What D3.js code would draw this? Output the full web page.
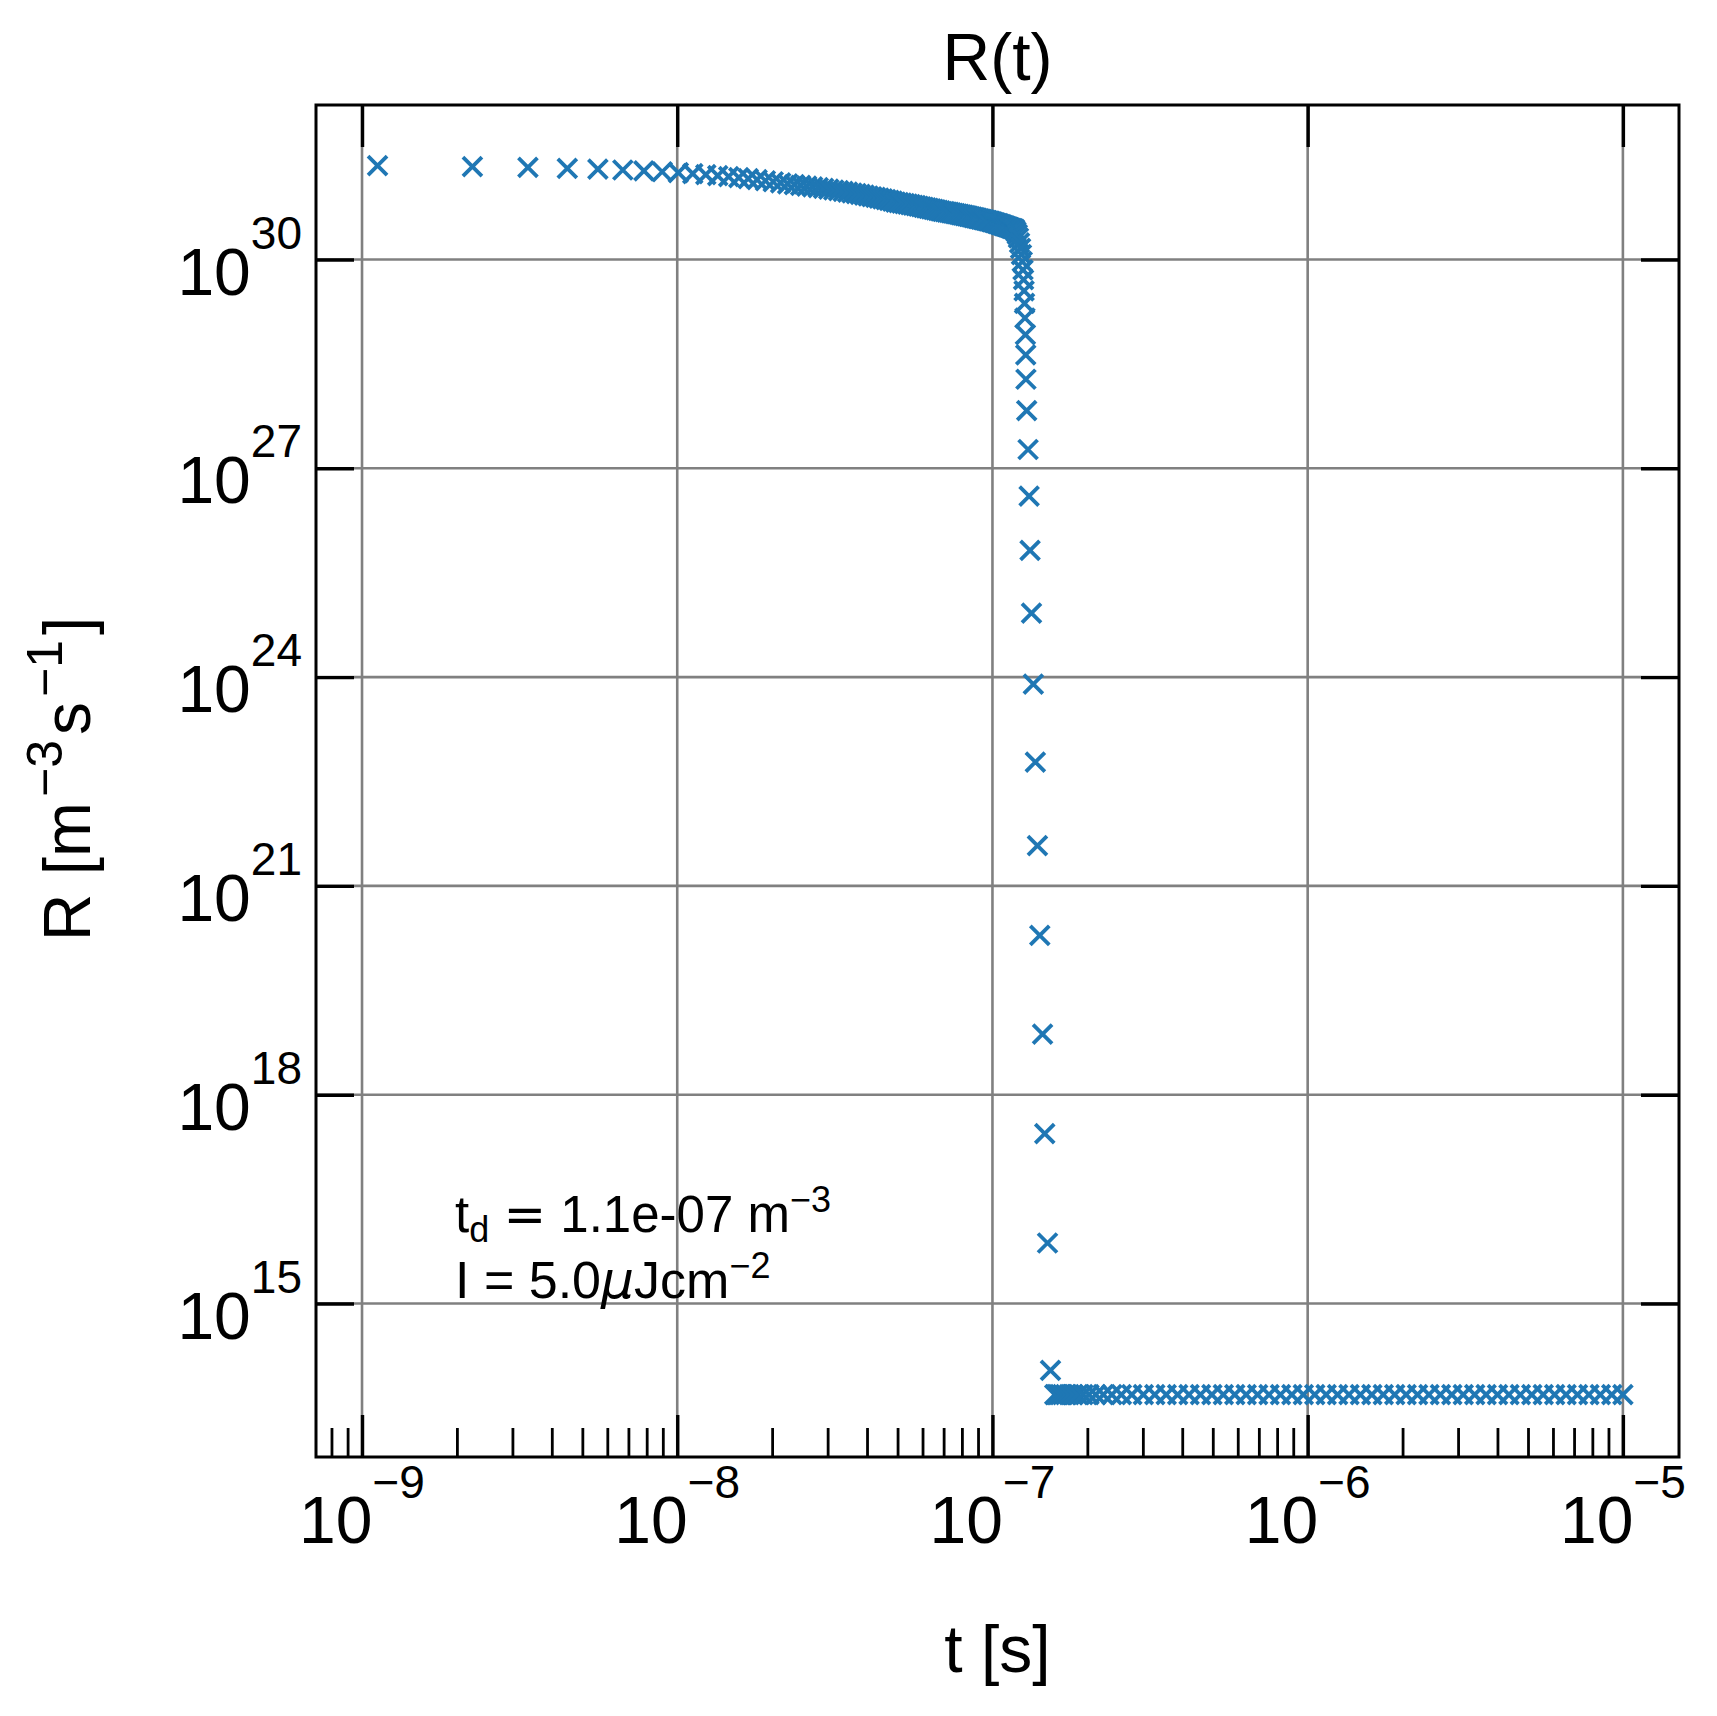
<!DOCTYPE html>
<html>
<head>
<meta charset="UTF-8">
<title>R(t)</title>
<script src="https://cdn.jsdelivr.net/npm/d3@7"></script>
<style>
body { margin: 0; background: #fff; }
text { font-family: "Liberation Sans", Arial, sans-serif; fill: #000; }
</style>
</head>
<body>
<script>
// time in ns, R given as log10(R)
var tPlateau = [1.12, 2.24, 3.36, 4.48, 5.60, 6.72, 7.84, 8.96, 10.08, 11.20, 12.32, 13.44, 14.56, 15.68, 16.80, 17.92, 19.04, 20.16, 21.28, 22.40,
  23.52, 24.64, 25.76, 26.88, 28.00, 29.12, 30.24, 31.36, 32.48, 33.60, 34.72, 35.84, 36.96, 38.08, 39.20, 40.32, 41.44, 42.56, 43.68, 44.80,
  45.92, 47.04, 48.16, 49.28, 50.40, 51.52, 52.64, 53.76, 54.88, 56.00, 57.12, 58.24, 59.36, 60.48, 61.60, 62.72, 63.84, 64.96, 66.08, 67.20,
  68.32, 69.44, 70.56, 71.68, 72.80, 73.92, 75.04, 76.16, 77.28, 78.40, 79.52, 80.64, 81.76, 82.88, 84.00, 85.12, 86.24, 87.36, 88.48, 89.60,
  90.72, 91.84, 92.96, 94.08, 95.20, 96.32, 97.44, 98.56, 99.68, 100.80, 101.92, 103.04, 104.16, 105.28, 106.40, 107.52, 108.64, 109.76, 110.88, 112.00,
  113.12, 114.24, 115.36, 116.48, 117.60];
var rPlateau = [31.348, 31.335, 31.323, 31.310, 31.298, 31.286, 31.274, 31.261, 31.249, 31.235, 31.220, 31.205, 31.191, 31.176, 31.161, 31.147, 31.132, 31.117, 31.102, 31.088,
  31.075, 31.064, 31.054, 31.043, 31.032, 31.021, 31.010, 30.999, 30.989, 30.978, 30.967, 30.956, 30.946, 30.935, 30.924, 30.913, 30.902, 30.892, 30.881, 30.870,
  30.860, 30.849, 30.838, 30.825, 30.817, 30.810, 30.802, 30.795, 30.788, 30.780, 30.773, 30.765, 30.758, 30.750, 30.743, 30.735, 30.728, 30.720, 30.713, 30.705,
  30.698, 30.690, 30.687, 30.682, 30.676, 30.670, 30.665, 30.659, 30.654, 30.648, 30.642, 30.637, 30.631, 30.626, 30.620, 30.614, 30.609, 30.603, 30.598, 30.592,
  30.586, 30.581, 30.575, 30.570, 30.564, 30.558, 30.553, 30.547, 30.542, 30.535, 30.528, 30.521, 30.515, 30.508, 30.501, 30.494, 30.487, 30.481, 30.474, 30.467,
  30.460, 30.453, 30.446, 30.440, 30.433];

var tDrop = [118.7, 119.9, 120.9, 121.9, 122.8, 123.6, 124.3, 125.0, 125.5, 126.0, 126.4, 126.8, 127.2, 127.5,
  127.7, 128.4, 129.7, 130.7, 131.6, 133.0, 134.8, 136.8, 138.9, 141.3, 144.2, 146.5, 149.5, 152.8];
var rDrop = [30.40, 30.36, 30.31, 30.24, 30.16, 30.07, 29.97, 29.85, 29.71, 29.55, 29.37, 29.16, 28.92, 28.63,
  28.28, 27.83, 27.27, 26.60, 25.82, 24.92, 23.90, 22.78, 21.58, 20.29, 18.87, 17.44, 15.87, 14.04];

var tTail = [157.6, 159.4, 161.5, 164.0, 167.0, 170.7, 175.1, 180.3, 186.5, 193.7, 202.4, 212.7, 224.8, 239.2, 256.4, 276.8,
  301.1, 327.3, 355.8, 386.8, 420.4, 457.0, 496.8, 540.0, 587.0, 638.1, 693.7, 754.0, 819.7, 891.0, 968.6, 1052.9,
  1144.5, 1244.1, 1352.4, 1470.1, 1598.1, 1737.1, 1888.3, 2052.7, 2231.3, 2425.5, 2636.7, 2866.1, 3115.6, 3386.8, 3681.5,
  4002.0, 4350.3, 4728.9, 5140.5, 5587.9, 6074.2, 6602.9, 7177.6, 7802.3, 8481.4, 9219.6, 10000];
var rTail = [13.69, 13.69, 13.69, 13.69, 13.69, 13.69, 13.69, 13.69, 13.69, 13.69, 13.69, 13.69, 13.69, 13.69, 13.69, 13.69,
  13.69, 13.69, 13.69, 13.69, 13.69, 13.69, 13.69, 13.69, 13.69, 13.69, 13.69, 13.69, 13.69, 13.69, 13.69, 13.69,
  13.69, 13.69, 13.69, 13.69, 13.69, 13.69, 13.69, 13.69, 13.69, 13.69, 13.69, 13.69, 13.69, 13.69, 13.69,
  13.69, 13.69, 13.69, 13.69, 13.69, 13.69, 13.69, 13.69, 13.69, 13.69, 13.69, 13.69];

var xMajorTicks = [1e-9, 1e-8, 1e-7, 1e-6, 1e-5];
var yMajorTicks = [1e15, 1e18, 1e21, 1e24, 1e27, 1e30];

var margin = {top: 105, left: 316},
    width = 1679 - 316,
    height = 1457 - 105;

function toPoints(ts, rs) {
  var out = [];
  for (var i = 0; i < Math.min(ts.length, rs.length); i++) {
    out.push({t: ts[i] * 1e-9, r: Math.pow(10, rs[i])});
  }
  return out;
}
var data = toPoints(tPlateau, rPlateau).concat(toPoints(tDrop, rDrop), toPoints(tTail, rTail));

var x = d3.scaleLog()
    .domain([Math.pow(10, -9.146), Math.pow(10, -4.822)])
    .range([0, width]);
var y = d3.scaleLog()
    .domain([Math.pow(10, 12.795), Math.pow(10, 32.22)])
    .range([height, 0]);

var svg = d3.select("body").append("svg")
    .attr("width", 1717)
    .attr("height", 1716)
    .style("background", "#fff");

var g = svg.append("g")
    .attr("transform", "translate(" + margin.left + "," + margin.top + ")");

// grid
g.append("g").selectAll("line").data(xMajorTicks).enter().append("line")
    .attr("x1", function(d) { return x(d); }).attr("x2", function(d) { return x(d); })
    .attr("y1", 0).attr("y2", height)
    .attr("stroke", "#808080").attr("stroke-width", 2.6);
g.append("g").selectAll("line").data(yMajorTicks).enter().append("line")
    .attr("y1", function(d) { return y(d); }).attr("y2", function(d) { return y(d); })
    .attr("x1", 0).attr("x2", width)
    .attr("stroke", "#808080").attr("stroke-width", 2.6);

// markers
var s = 9.5;
g.append("g").selectAll("path").data(data).enter().append("path")
    .attr("transform", function(d) { return "translate(" + x(d.t) + "," + y(d.r) + ")"; })
    .attr("d", "M" + (-s) + "," + (-s) + "L" + s + "," + s + "M" + (-s) + "," + s + "L" + s + "," + (-s))
    .attr("fill", "none")
    .attr("stroke", "#1f77b4")
    .attr("stroke-width", 3.8);

// ticks (inward)
var xMinorTicks = x.ticks().filter(function(d) {
  var e = Math.log10(d);
  return Math.abs(e - Math.round(e)) > 1e-6;
});

function styleAxis(sel, w) {
  sel.select(".domain").remove();
  sel.selectAll(".tick text").remove();
  sel.selectAll(".tick line").attr("stroke", "#000").attr("stroke-width", w);
}

g.append("g").attr("transform", "translate(0," + height + ")")
    .call(d3.axisBottom(x).tickValues(xMinorTicks).tickSize(-29).tickFormat(""))
    .call(styleAxis, 2.8);
g.append("g").attr("transform", "translate(0," + height + ")")
    .call(d3.axisBottom(x).tickValues(xMajorTicks).tickSize(-42).tickFormat(""))
    .call(styleAxis, 3.4);
g.append("g")
    .call(d3.axisTop(x).tickValues(xMajorTicks).tickSize(-42).tickFormat(""))
    .call(styleAxis, 3.4);
g.append("g")
    .call(d3.axisLeft(y).tickValues(yMajorTicks).tickSize(-38).tickFormat(""))
    .call(styleAxis, 3.4);
g.append("g").attr("transform", "translate(" + width + ",0)")
    .call(d3.axisRight(y).tickValues(yMajorTicks).tickSize(-38).tickFormat(""))
    .call(styleAxis, 3.4);

// frame
g.append("rect")
    .attr("x", 0).attr("y", 0).attr("width", width).attr("height", height)
    .attr("fill", "none").attr("stroke", "#000").attr("stroke-width", 3);

function expText(v) {
  return String(Math.round(Math.log10(v))).replace("-", "\u2212");
}

// x tick labels
var xl = g.append("g").selectAll("text").data(xMajorTicks).enter().append("text")
    .attr("x", function(d) { return x(d); })
    .attr("y", height + 86)
    .attr("text-anchor", "middle")
    .attr("font-size", 66);
xl.append("tspan").text("10");
xl.append("tspan").attr("font-size", 46).attr("dy", -45).text(function(d) { return expText(d); });

// y tick labels
var yl = g.append("g").selectAll("text").data(yMajorTicks).enter().append("text")
    .attr("x", -14)
    .attr("y", function(d) { return y(d) + 35; })
    .attr("text-anchor", "end")
    .attr("font-size", 66);
yl.append("tspan").text("10");
yl.append("tspan").attr("font-size", 46).attr("dy", -46).text(function(d) { return expText(d); });

// title
svg.append("text")
    .attr("x", margin.left + width / 2).attr("y", 80)
    .attr("text-anchor", "middle").attr("font-size", 66)
    .text("R(t)");

// x label
svg.append("text")
    .attr("x", margin.left + width / 2).attr("y", 1672)
    .attr("text-anchor", "middle").attr("font-size", 66)
    .text("t [s]");

// y label
var ylab = svg.append("text")
    .attr("transform", "translate(90,779) rotate(-90)")
    .attr("text-anchor", "middle").attr("font-size", 66);
ylab.append("tspan").text("R [m");
ylab.append("tspan").attr("font-size", 50).attr("dx", 5).attr("dy", -28).text("\u22123");
ylab.append("tspan").attr("dx", 5).attr("dy", 28).text("s");
ylab.append("tspan").attr("font-size", 50).attr("dx", 5).attr("dy", -28).text("\u22121");
ylab.append("tspan").attr("dx", 5).attr("dy", 28).text("]");

// annotation
var a1 = svg.append("text").attr("x", 455).attr("y", 1232).attr("font-size", 51);
a1.append("tspan").text("t");
a1.append("tspan").attr("font-size", 36).attr("dy", 10).text("d");
a1.append("tspan").attr("dy", -10).text(" ");
a1.append("tspan").attr("font-family", "DejaVu Sans").text("=");
a1.append("tspan").text(" 1.1e-07 m");
a1.append("tspan").attr("font-size", 36).attr("dy", -20).text("\u22123");

var a2 = svg.append("text").attr("x", 455).attr("y", 1298).attr("font-size", 52);
a2.append("tspan").text("I = 5.0");
a2.append("tspan").attr("font-style", "italic").attr("font-family", "DejaVu Sans").text("\u03bc");
a2.append("tspan").text("Jcm");
a2.append("tspan").attr("font-size", 36).attr("dy", -20).text("\u22122");
</script>
</body>
</html>
